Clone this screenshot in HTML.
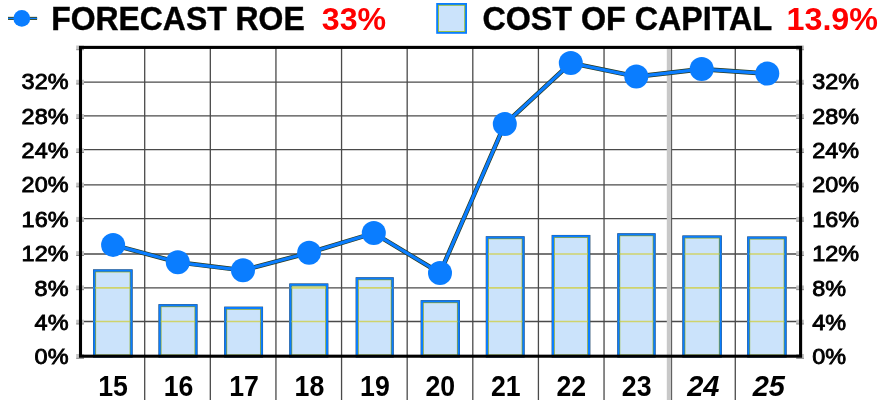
<!DOCTYPE html>
<html><head><meta charset="utf-8"><title>chart</title>
<style>
html,body{margin:0;padding:0;background:#fff;}
body{width:884px;height:408px;overflow:hidden;font-family:"Liberation Sans",sans-serif;}
svg{display:block;will-change:transform;}
text{font-family:"Liberation Sans",sans-serif;}
</style></head><body>
<svg width="884" height="408" viewBox="0 0 884 408">
<rect width="884" height="408" fill="#fff"/>
<g stroke="#4a4a4a" stroke-width="1.3"><line x1="80.5" x2="800.6" y1="321.50" y2="321.50"/><line x1="80.5" x2="800.6" y1="287.90" y2="287.90"/><line x1="80.5" x2="800.6" y1="254.00" y2="254.00"/><line x1="80.5" x2="800.6" y1="218.70" y2="218.70"/><line x1="80.5" x2="800.6" y1="184.90" y2="184.90"/><line x1="80.5" x2="800.6" y1="149.60" y2="149.60"/><line x1="80.5" x2="800.6" y1="115.90" y2="115.90"/><line x1="80.5" x2="800.6" y1="82.20" y2="82.20"/><line x1="144.70" x2="144.70" y1="47.4" y2="400"/><line x1="210.32" x2="210.32" y1="47.4" y2="400"/><line x1="275.94" x2="275.94" y1="47.4" y2="400"/><line x1="341.56" x2="341.56" y1="47.4" y2="400"/><line x1="407.18" x2="407.18" y1="47.4" y2="400"/><line x1="472.80" x2="472.80" y1="47.4" y2="400"/><line x1="538.42" x2="538.42" y1="47.4" y2="400"/><line x1="604.04" x2="604.04" y1="47.4" y2="400"/><line x1="735.28" x2="735.28" y1="47.4" y2="400"/></g>
<rect x="666.8" y="47.4" width="4.5" height="352.6" fill="#c8c8c8"/>
<line x1="671.6" x2="671.6" y1="47.4" y2="400" stroke="#5a5a5a" stroke-width="1.1"/>
<rect x="94.40" y="270.70" width="36.90" height="85.50" fill="#cbe3fb" stroke="#2c3c44" stroke-width="2.7"/><line x1="93.30" x2="132.40" y1="321.50" y2="321.50" stroke="#cfd36c" stroke-width="1.7"/><line x1="93.30" x2="132.40" y1="287.90" y2="287.90" stroke="#cfd36c" stroke-width="1.7"/><rect x="94.40" y="270.70" width="36.90" height="85.50" fill="none" stroke="#0a7dff" stroke-width="2.2"/><rect x="95.75" y="272.05" width="34.20" height="82.80" fill="none" stroke="#a3c02c" stroke-width="0.75" stroke-opacity="0.8"/>
<rect x="159.80" y="305.50" width="36.40" height="50.70" fill="#cbe3fb" stroke="#2c3c44" stroke-width="2.7"/><line x1="158.70" x2="197.30" y1="321.50" y2="321.50" stroke="#cfd36c" stroke-width="1.7"/><rect x="159.80" y="305.50" width="36.40" height="50.70" fill="none" stroke="#0a7dff" stroke-width="2.2"/><rect x="161.15" y="306.85" width="33.70" height="48.00" fill="none" stroke="#a3c02c" stroke-width="0.75" stroke-opacity="0.8"/>
<rect x="225.50" y="308.00" width="36.20" height="48.20" fill="#cbe3fb" stroke="#2c3c44" stroke-width="2.7"/><line x1="224.40" x2="262.80" y1="321.50" y2="321.50" stroke="#cfd36c" stroke-width="1.7"/><rect x="225.50" y="308.00" width="36.20" height="48.20" fill="none" stroke="#0a7dff" stroke-width="2.2"/><rect x="226.85" y="309.35" width="33.50" height="45.50" fill="none" stroke="#a3c02c" stroke-width="0.75" stroke-opacity="0.8"/>
<rect x="290.60" y="284.80" width="36.40" height="71.40" fill="#cbe3fb" stroke="#2c3c44" stroke-width="2.7"/><line x1="289.50" x2="328.10" y1="321.50" y2="321.50" stroke="#cfd36c" stroke-width="1.7"/><line x1="289.50" x2="328.10" y1="287.90" y2="287.90" stroke="#cfd36c" stroke-width="1.7"/><rect x="290.60" y="284.80" width="36.40" height="71.40" fill="none" stroke="#0a7dff" stroke-width="2.2"/><rect x="291.95" y="286.15" width="33.70" height="68.70" fill="none" stroke="#a3c02c" stroke-width="0.75" stroke-opacity="0.8"/>
<rect x="357.00" y="278.60" width="35.40" height="77.60" fill="#cbe3fb" stroke="#2c3c44" stroke-width="2.7"/><line x1="355.90" x2="393.50" y1="321.50" y2="321.50" stroke="#cfd36c" stroke-width="1.7"/><line x1="355.90" x2="393.50" y1="287.90" y2="287.90" stroke="#cfd36c" stroke-width="1.7"/><rect x="357.00" y="278.60" width="35.40" height="77.60" fill="none" stroke="#0a7dff" stroke-width="2.2"/><rect x="358.35" y="279.95" width="32.70" height="74.90" fill="none" stroke="#a3c02c" stroke-width="0.75" stroke-opacity="0.8"/>
<rect x="422.00" y="301.50" width="36.60" height="54.70" fill="#cbe3fb" stroke="#2c3c44" stroke-width="2.7"/><line x1="420.90" x2="459.70" y1="321.50" y2="321.50" stroke="#cfd36c" stroke-width="1.7"/><rect x="422.00" y="301.50" width="36.60" height="54.70" fill="none" stroke="#0a7dff" stroke-width="2.2"/><rect x="423.35" y="302.85" width="33.90" height="52.00" fill="none" stroke="#a3c02c" stroke-width="0.75" stroke-opacity="0.8"/>
<rect x="487.10" y="237.60" width="36.20" height="118.60" fill="#cbe3fb" stroke="#2c3c44" stroke-width="2.7"/><line x1="486.00" x2="524.40" y1="321.50" y2="321.50" stroke="#cfd36c" stroke-width="1.7"/><line x1="486.00" x2="524.40" y1="287.90" y2="287.90" stroke="#cfd36c" stroke-width="1.7"/><line x1="486.00" x2="524.40" y1="254.00" y2="254.00" stroke="#cfd36c" stroke-width="1.7"/><rect x="487.10" y="237.60" width="36.20" height="118.60" fill="none" stroke="#0a7dff" stroke-width="2.2"/><rect x="488.45" y="238.95" width="33.50" height="115.90" fill="none" stroke="#a3c02c" stroke-width="0.75" stroke-opacity="0.8"/>
<rect x="553.00" y="236.30" width="36.00" height="119.90" fill="#cbe3fb" stroke="#2c3c44" stroke-width="2.7"/><line x1="551.90" x2="590.10" y1="321.50" y2="321.50" stroke="#cfd36c" stroke-width="1.7"/><line x1="551.90" x2="590.10" y1="287.90" y2="287.90" stroke="#cfd36c" stroke-width="1.7"/><line x1="551.90" x2="590.10" y1="254.00" y2="254.00" stroke="#cfd36c" stroke-width="1.7"/><rect x="553.00" y="236.30" width="36.00" height="119.90" fill="none" stroke="#0a7dff" stroke-width="2.2"/><rect x="554.35" y="237.65" width="33.30" height="117.20" fill="none" stroke="#a3c02c" stroke-width="0.75" stroke-opacity="0.8"/>
<rect x="618.60" y="234.60" width="35.70" height="121.60" fill="#cbe3fb" stroke="#2c3c44" stroke-width="2.7"/><line x1="617.50" x2="655.40" y1="321.50" y2="321.50" stroke="#cfd36c" stroke-width="1.7"/><line x1="617.50" x2="655.40" y1="287.90" y2="287.90" stroke="#cfd36c" stroke-width="1.7"/><line x1="617.50" x2="655.40" y1="254.00" y2="254.00" stroke="#cfd36c" stroke-width="1.7"/><rect x="618.60" y="234.60" width="35.70" height="121.60" fill="none" stroke="#0a7dff" stroke-width="2.2"/><rect x="619.95" y="235.95" width="33.00" height="118.90" fill="none" stroke="#a3c02c" stroke-width="0.75" stroke-opacity="0.8"/>
<rect x="683.70" y="236.80" width="36.80" height="119.40" fill="#cbe3fb" stroke="#2c3c44" stroke-width="2.7"/><line x1="682.60" x2="721.60" y1="321.50" y2="321.50" stroke="#cfd36c" stroke-width="1.7"/><line x1="682.60" x2="721.60" y1="287.90" y2="287.90" stroke="#cfd36c" stroke-width="1.7"/><line x1="682.60" x2="721.60" y1="254.00" y2="254.00" stroke="#cfd36c" stroke-width="1.7"/><rect x="683.70" y="236.80" width="36.80" height="119.40" fill="none" stroke="#0a7dff" stroke-width="2.2"/><rect x="685.05" y="238.15" width="34.10" height="116.70" fill="none" stroke="#a3c02c" stroke-width="0.75" stroke-opacity="0.8"/>
<rect x="748.50" y="237.80" width="36.80" height="118.40" fill="#cbe3fb" stroke="#2c3c44" stroke-width="2.7"/><line x1="747.40" x2="786.40" y1="321.50" y2="321.50" stroke="#cfd36c" stroke-width="1.7"/><line x1="747.40" x2="786.40" y1="287.90" y2="287.90" stroke="#cfd36c" stroke-width="1.7"/><line x1="747.40" x2="786.40" y1="254.00" y2="254.00" stroke="#cfd36c" stroke-width="1.7"/><rect x="748.50" y="237.80" width="36.80" height="118.40" fill="none" stroke="#0a7dff" stroke-width="2.2"/><rect x="749.85" y="239.15" width="34.10" height="115.70" fill="none" stroke="#a3c02c" stroke-width="0.75" stroke-opacity="0.8"/>
<rect x="76.2" y="354.00" width="7.8" height="4.3" fill="#c4c4c4"/><rect x="796.2" y="354.00" width="7.8" height="4.3" fill="#c4c4c4"/><rect x="76.2" y="357.90" width="7.8" height="0.8" fill="#777"/><rect x="796.2" y="357.90" width="7.8" height="0.8" fill="#777"/><rect x="76.2" y="319.72" width="7.8" height="4.3" fill="#c4c4c4"/><rect x="796.2" y="319.72" width="7.8" height="4.3" fill="#c4c4c4"/><rect x="76.2" y="323.62" width="7.8" height="0.8" fill="#777"/><rect x="796.2" y="323.62" width="7.8" height="0.8" fill="#777"/><rect x="76.2" y="285.44" width="7.8" height="4.3" fill="#c4c4c4"/><rect x="796.2" y="285.44" width="7.8" height="4.3" fill="#c4c4c4"/><rect x="76.2" y="289.34" width="7.8" height="0.8" fill="#777"/><rect x="796.2" y="289.34" width="7.8" height="0.8" fill="#777"/><rect x="76.2" y="251.16" width="7.8" height="4.3" fill="#c4c4c4"/><rect x="796.2" y="251.16" width="7.8" height="4.3" fill="#c4c4c4"/><rect x="76.2" y="255.06" width="7.8" height="0.8" fill="#777"/><rect x="796.2" y="255.06" width="7.8" height="0.8" fill="#777"/><rect x="76.2" y="216.88" width="7.8" height="4.3" fill="#c4c4c4"/><rect x="796.2" y="216.88" width="7.8" height="4.3" fill="#c4c4c4"/><rect x="76.2" y="220.78" width="7.8" height="0.8" fill="#777"/><rect x="796.2" y="220.78" width="7.8" height="0.8" fill="#777"/><rect x="76.2" y="182.60" width="7.8" height="4.3" fill="#c4c4c4"/><rect x="796.2" y="182.60" width="7.8" height="4.3" fill="#c4c4c4"/><rect x="76.2" y="186.50" width="7.8" height="0.8" fill="#777"/><rect x="796.2" y="186.50" width="7.8" height="0.8" fill="#777"/><rect x="76.2" y="148.32" width="7.8" height="4.3" fill="#c4c4c4"/><rect x="796.2" y="148.32" width="7.8" height="4.3" fill="#c4c4c4"/><rect x="76.2" y="152.22" width="7.8" height="0.8" fill="#777"/><rect x="796.2" y="152.22" width="7.8" height="0.8" fill="#777"/><rect x="76.2" y="114.04" width="7.8" height="4.3" fill="#c4c4c4"/><rect x="796.2" y="114.04" width="7.8" height="4.3" fill="#c4c4c4"/><rect x="76.2" y="117.94" width="7.8" height="0.8" fill="#777"/><rect x="796.2" y="117.94" width="7.8" height="0.8" fill="#777"/><rect x="76.2" y="79.76" width="7.8" height="4.3" fill="#c4c4c4"/><rect x="796.2" y="79.76" width="7.8" height="4.3" fill="#c4c4c4"/><rect x="76.2" y="83.66" width="7.8" height="0.8" fill="#777"/><rect x="796.2" y="83.66" width="7.8" height="0.8" fill="#777"/><rect x="76.2" y="45.48" width="7.8" height="4.3" fill="#c4c4c4"/><rect x="796.2" y="45.48" width="7.8" height="4.3" fill="#c4c4c4"/><rect x="76.2" y="49.38" width="7.8" height="0.8" fill="#777"/><rect x="796.2" y="49.38" width="7.8" height="0.8" fill="#777"/>
<rect x="80.5" y="47.4" width="720.10" height="308.80" fill="none" stroke="#000" stroke-width="3.1"/>
<polyline points="113.10,244.9 177.80,262.3 243.00,270.3 309.10,252.8 373.80,233.1 440.00,273.0 504.80,124.1 570.80,63.0 636.30,76.6 701.70,69.1 767.30,73.6" fill="none" stroke="#2a3a1c" stroke-width="4.6" stroke-linejoin="round"/>
<polyline points="113.10,244.9 177.80,262.3 243.00,270.3 309.10,252.8 373.80,233.1 440.00,273.0 504.80,124.1 570.80,63.0 636.30,76.6 701.70,69.1 767.30,73.6" fill="none" stroke="#0a7dff" stroke-width="3.2" stroke-linejoin="round"/>
<circle cx="113.10" cy="244.9" r="12" fill="#0a7dff"/><circle cx="177.80" cy="262.3" r="12" fill="#0a7dff"/><circle cx="243.00" cy="270.3" r="12" fill="#0a7dff"/><circle cx="309.10" cy="252.8" r="12" fill="#0a7dff"/><circle cx="373.80" cy="233.1" r="12" fill="#0a7dff"/><circle cx="440.00" cy="273.0" r="12" fill="#0a7dff"/><circle cx="504.80" cy="124.1" r="12" fill="#0a7dff"/><circle cx="570.80" cy="63.0" r="12" fill="#0a7dff"/><circle cx="636.30" cy="76.6" r="12" fill="#0a7dff"/><circle cx="701.70" cy="69.1" r="12" fill="#0a7dff"/><circle cx="767.30" cy="73.6" r="12" fill="#0a7dff"/>
<text x="34.64" y="364.00" font-size="21.5" stroke="#000" stroke-width="0.85" textLength="33.86" lengthAdjust="spacingAndGlyphs">0%</text><text x="812.2" y="364.00" font-size="21.5" stroke="#000" stroke-width="0.85" textLength="33.86" lengthAdjust="spacingAndGlyphs">0%</text>
<text x="34.64" y="330.00" font-size="21.5" stroke="#000" stroke-width="0.85" textLength="33.86" lengthAdjust="spacingAndGlyphs">4%</text><text x="812.2" y="330.00" font-size="21.5" stroke="#000" stroke-width="0.85" textLength="33.86" lengthAdjust="spacingAndGlyphs">4%</text>
<text x="34.64" y="295.90" font-size="21.5" stroke="#000" stroke-width="0.85" textLength="33.86" lengthAdjust="spacingAndGlyphs">8%</text><text x="812.2" y="295.90" font-size="21.5" stroke="#000" stroke-width="0.85" textLength="33.86" lengthAdjust="spacingAndGlyphs">8%</text>
<text x="21.61" y="261.00" font-size="21.5" stroke="#000" stroke-width="0.85" textLength="46.89" lengthAdjust="spacingAndGlyphs">12%</text><text x="812.2" y="261.00" font-size="21.5" stroke="#000" stroke-width="0.85" textLength="46.89" lengthAdjust="spacingAndGlyphs">12%</text>
<text x="21.61" y="226.70" font-size="21.5" stroke="#000" stroke-width="0.85" textLength="46.89" lengthAdjust="spacingAndGlyphs">16%</text><text x="812.2" y="226.70" font-size="21.5" stroke="#000" stroke-width="0.85" textLength="46.89" lengthAdjust="spacingAndGlyphs">16%</text>
<text x="21.61" y="192.00" font-size="21.5" stroke="#000" stroke-width="0.85" textLength="46.89" lengthAdjust="spacingAndGlyphs">20%</text><text x="812.2" y="192.00" font-size="21.5" stroke="#000" stroke-width="0.85" textLength="46.89" lengthAdjust="spacingAndGlyphs">20%</text>
<text x="21.61" y="158.00" font-size="21.5" stroke="#000" stroke-width="0.85" textLength="46.89" lengthAdjust="spacingAndGlyphs">24%</text><text x="812.2" y="158.00" font-size="21.5" stroke="#000" stroke-width="0.85" textLength="46.89" lengthAdjust="spacingAndGlyphs">24%</text>
<text x="21.61" y="124.30" font-size="21.5" stroke="#000" stroke-width="0.85" textLength="46.89" lengthAdjust="spacingAndGlyphs">28%</text><text x="812.2" y="124.30" font-size="21.5" stroke="#000" stroke-width="0.85" textLength="46.89" lengthAdjust="spacingAndGlyphs">28%</text>
<text x="21.61" y="89.00" font-size="21.5" stroke="#000" stroke-width="0.85" textLength="46.89" lengthAdjust="spacingAndGlyphs">32%</text><text x="812.2" y="89.00" font-size="21.5" stroke="#000" stroke-width="0.85" textLength="46.89" lengthAdjust="spacingAndGlyphs">32%</text>
<text x="98.27" y="396.1" font-size="29" font-weight="bold" textLength="29.67" lengthAdjust="spacingAndGlyphs">15</text><text x="163.72" y="396.1" font-size="29" font-weight="bold" textLength="29.67" lengthAdjust="spacingAndGlyphs">16</text><text x="229.17" y="396.1" font-size="29" font-weight="bold" textLength="29.67" lengthAdjust="spacingAndGlyphs">17</text><text x="294.62" y="396.1" font-size="29" font-weight="bold" textLength="29.67" lengthAdjust="spacingAndGlyphs">18</text><text x="360.07" y="396.1" font-size="29" font-weight="bold" textLength="29.67" lengthAdjust="spacingAndGlyphs">19</text><text x="425.52" y="396.1" font-size="29" font-weight="bold" textLength="29.67" lengthAdjust="spacingAndGlyphs">20</text><text x="490.97" y="396.1" font-size="29" font-weight="bold" textLength="29.67" lengthAdjust="spacingAndGlyphs">21</text><text x="556.42" y="396.1" font-size="29" font-weight="bold" textLength="29.67" lengthAdjust="spacingAndGlyphs">22</text><text x="621.87" y="396.1" font-size="29" font-weight="bold" textLength="29.67" lengthAdjust="spacingAndGlyphs">23</text><text x="687.23" y="396.1" font-size="29" font-weight="bold" textLength="32.25" lengthAdjust="spacingAndGlyphs" font-style="italic">24</text><text x="752.68" y="396.1" font-size="29" font-weight="bold" textLength="32.25" lengthAdjust="spacingAndGlyphs" font-style="italic">25</text>
<line x1="8" x2="37.1" y1="18.4" y2="18.4" stroke="#3a4a22" stroke-width="3.1"/><line x1="8" x2="37.1" y1="18.4" y2="18.4" stroke="#0a7dff" stroke-width="1.3"/><circle cx="21.8" cy="18.4" r="8.4" fill="#0a7dff"/>
<text x="51.2" y="29.6" font-size="32.5" font-weight="bold" stroke="#000" stroke-width="0.4" textLength="253.5" lengthAdjust="spacingAndGlyphs">FORECAST ROE</text>
<text x="321.8" y="29.5" font-size="31.3" font-weight="bold" fill="#f00" textLength="64.3" lengthAdjust="spacingAndGlyphs">33%</text>
<rect x="437.3" y="4.1" width="28.6" height="28.6" fill="#cbe3fb" stroke="#0a7dff" stroke-width="2.2"/><rect x="438.45" y="5.25" width="26.3" height="26.3" fill="none" stroke="#9dbf1a" stroke-width="0.8"/>
<text x="482.4" y="29.6" font-size="32.5" font-weight="bold" stroke="#000" stroke-width="0.4" textLength="289.7" lengthAdjust="spacingAndGlyphs">COST OF CAPITAL</text>
<text x="786.5" y="29.5" font-size="31.3" font-weight="bold" fill="#f00" textLength="91.5" lengthAdjust="spacingAndGlyphs">13.9%</text>
</svg></body></html>
